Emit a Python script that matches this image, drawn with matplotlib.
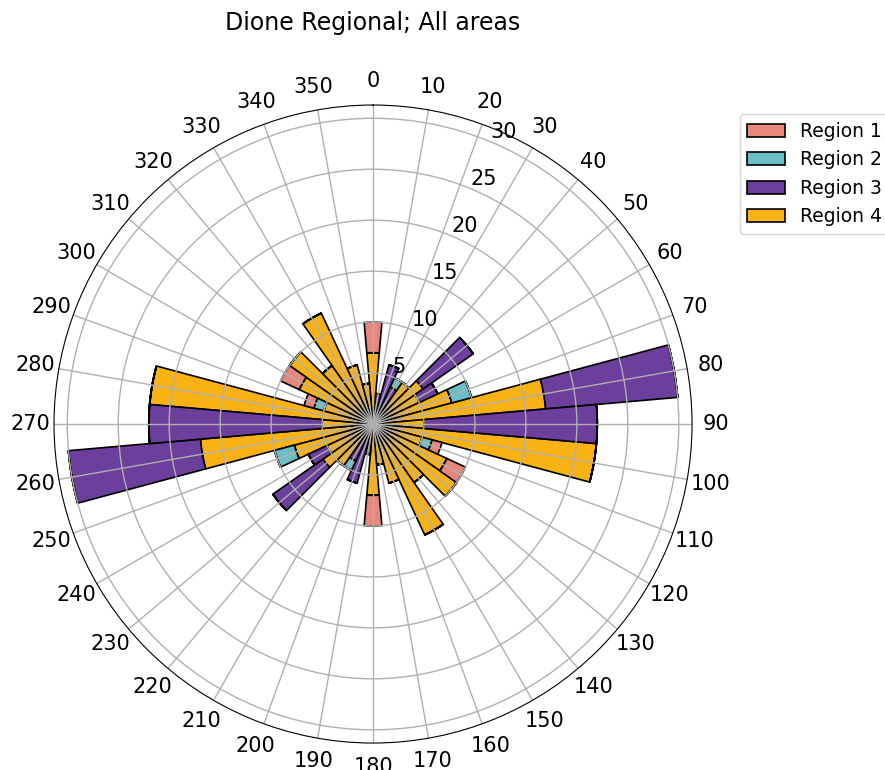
import numpy as np
import matplotlib
matplotlib.use('Agg')
import matplotlib.pyplot as plt

# Klassenmitten 0..170 Grad; die Rose ist symmetrisch (theta und theta+180)
bin_deg = np.arange(0, 180, 10)

region1 = [3, 0, 0, 0, 0, 0, 0, 0, 0, 0, 0, 1, 2, 0, 0, 0, 0, 0]
region2 = [0, 0, 0, 1, 0, 0, 0, 2, 0, 0, 0, 1, 0, 0, 0, 0, 0, 0]
region3 = [0, 3, 6, 4, 0, 6, 2, 0, 13, 17, 0, 0, 0, 0, 0, 0, 0, 0]
region4 = [7, 0, 0, 0, 5, 6, 5, 8, 17, 5, 22, 5, 8, 10, 7, 12, 6, 4]

labels = ["Region 1", "Region 2", "Region 3", "Region 4"]
colors = ["#e8877c", "#6bbfc4", "#6c3f9c", "#f9b213"]


def full_rose(values):
    # Werte fuer die Gegenrichtung spiegeln
    return np.concatenate([values, values])


theta = np.deg2rad(np.concatenate([bin_deg, bin_deg + 180]))
width = np.deg2rad(10)

fig = plt.figure(figsize=(8.85, 7.7), dpi=100)
ax = fig.add_axes([0.061, 0.035, 0.721, 0.8286], projection='polar')
ax.set_theta_zero_location('N')
ax.set_theta_direction(-1)

# Reihenfolge von innen nach aussen: Region 4, 3, 2, 1
series = [region1, region2, region3, region4]
bottom = np.zeros(len(theta))
handles = [None] * 4
for idx in [3, 2, 1, 0]:
    vals = full_rose(series[idx])
    handles[idx] = ax.bar(theta, vals, width=width, bottom=bottom,
                          color=colors[idx], edgecolor='black',
                          linewidth=1.2, label=labels[idx])
    bottom = bottom + vals

ax.set_thetagrids(np.arange(0, 360, 10),
                  [str(d) for d in range(0, 360, 10)], fontsize=15)
ax.tick_params(axis='x', pad=6.5)
ax.set_rgrids([5, 10, 15, 20, 25, 30], fontsize=15)
ax.set_ylim(0, 31.3)
ax.grid(color='#b0b0b0', linewidth=1.0)

ax.set_title("Dione Regional; All areas", fontsize=17, pad=54)

ax.legend(handles=handles, labels=labels, loc='upper left',
          bbox_to_anchor=(1.06, 1.0), fontsize=13.5)

fig.savefig("out.png", dpi=100)
